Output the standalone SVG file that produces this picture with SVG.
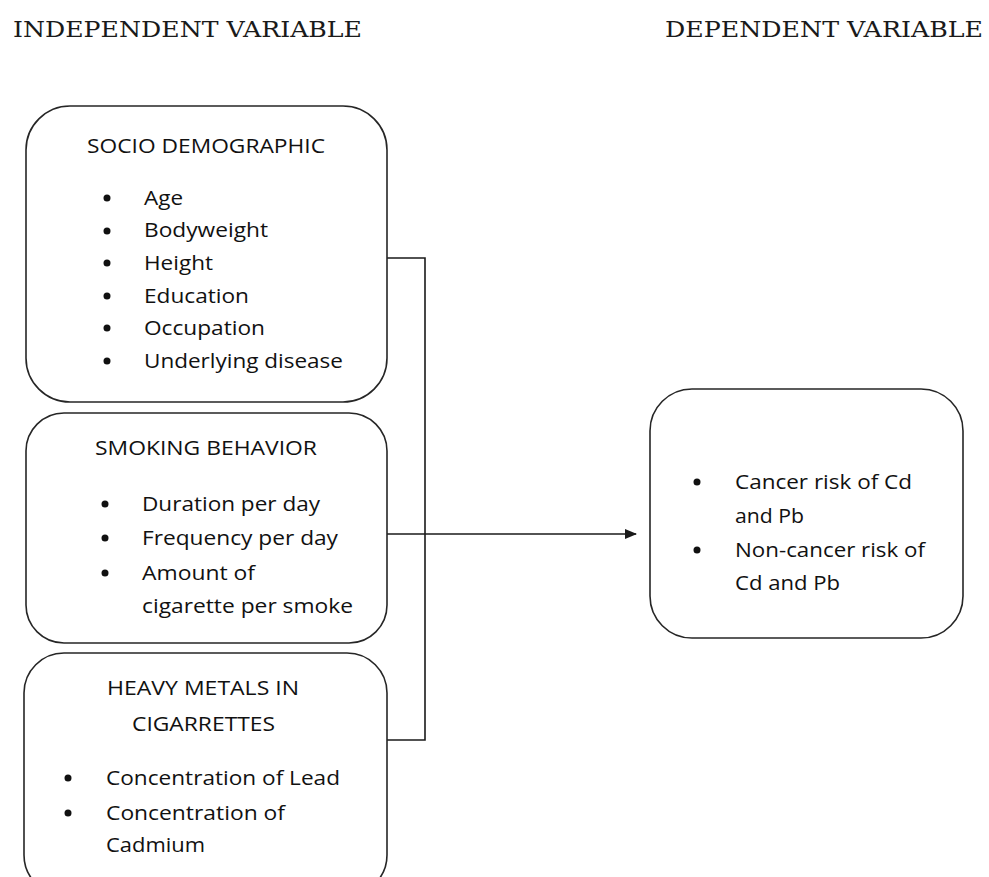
<svg xmlns="http://www.w3.org/2000/svg" width="989" height="877" viewBox="0 0 989 877">
<style>
.box{fill:#fff;stroke:#262626;stroke-width:1.6}
.hd{font-family:"DejaVu Serif","Liberation Serif",serif;font-size:23px;fill:#1a1a1a}
.t{font-family:"Open Sans","Liberation Sans",sans-serif;font-size:20px;fill:#111}
.b{fill:#111}
.ln{fill:none;stroke:#1a1a1a;stroke-width:1.6}
</style>
<defs>
<marker id="ah" markerWidth="12" markerHeight="10" refX="11" refY="5" orient="auto" markerUnits="userSpaceOnUse">
<path d="M0,0 L12,5 L0,10 Z" fill="#1a1a1a"/>
</marker>
</defs>
<rect width="989" height="877" fill="#fff"/>
<text class="hd" x="13" y="37" textLength="349" lengthAdjust="spacingAndGlyphs">INDEPENDENT VARIABLE</text>
<text class="hd" x="665" y="37" textLength="318" lengthAdjust="spacingAndGlyphs">DEPENDENT VARIABLE</text>

<g id="connectors">
<polyline class="ln" points="387,258 425,258 425,740 387,740"/>
<line class="ln" x1="387" y1="534" x2="425" y2="534"/>
<line class="ln" x1="425" y1="534" x2="636" y2="534" marker-end="url(#ah)"/>
</g>

<g id="socio">
<rect class="box" x="26" y="106" width="361" height="296" rx="44"/>
<text class="t" x="87" y="153" textLength="238" lengthAdjust="spacingAndGlyphs">SOCIO DEMOGRAPHIC</text>
<circle class="b" cx="107" cy="198" r="3.5"/><text class="t" x="144" y="205" textLength="39" lengthAdjust="spacingAndGlyphs">Age</text>
<circle class="b" cx="107" cy="231" r="3.5"/><text class="t" x="144" y="237" textLength="124" lengthAdjust="spacingAndGlyphs">Bodyweight</text>
<circle class="b" cx="107" cy="263" r="3.5"/><text class="t" x="144" y="270" textLength="69" lengthAdjust="spacingAndGlyphs">Height</text>
<circle class="b" cx="107" cy="296" r="3.5"/><text class="t" x="144" y="303" textLength="105" lengthAdjust="spacingAndGlyphs">Education</text>
<circle class="b" cx="107" cy="328" r="3.5"/><text class="t" x="144" y="335" textLength="121" lengthAdjust="spacingAndGlyphs">Occupation</text>
<circle class="b" cx="107" cy="361" r="3.5"/><text class="t" x="144" y="368" textLength="199" lengthAdjust="spacingAndGlyphs">Underlying disease</text>
</g>

<g id="smoking">
<rect class="box" x="26" y="413" width="361" height="230" rx="38"/>
<text class="t" x="95" y="455" textLength="222" lengthAdjust="spacingAndGlyphs">SMOKING BEHAVIOR</text>
<circle class="b" cx="105" cy="504" r="3.5"/><text class="t" x="142" y="511" textLength="178" lengthAdjust="spacingAndGlyphs">Duration per day</text>
<circle class="b" cx="105" cy="538" r="3.5"/><text class="t" x="142" y="545" textLength="196" lengthAdjust="spacingAndGlyphs">Frequency per day</text>
<circle class="b" cx="105" cy="573" r="3.5"/><text class="t" x="142" y="580" textLength="113" lengthAdjust="spacingAndGlyphs">Amount of</text>
<text class="t" x="142" y="613" textLength="211" lengthAdjust="spacingAndGlyphs">cigarette per smoke</text>
</g>

<g id="metals">
<rect class="box" x="24" y="653" width="363" height="242" rx="40"/>
<text class="t" x="107" y="695" textLength="192" lengthAdjust="spacingAndGlyphs">HEAVY METALS IN</text>
<text class="t" x="132" y="731" textLength="143" lengthAdjust="spacingAndGlyphs">CIGARRETTES</text>
<circle class="b" cx="68" cy="778" r="3.5"/><text class="t" x="106" y="785" textLength="234" lengthAdjust="spacingAndGlyphs">Concentration of Lead</text>
<circle class="b" cx="68" cy="813" r="3.5"/><text class="t" x="106" y="820" textLength="179" lengthAdjust="spacingAndGlyphs">Concentration of</text>
<text class="t" x="106" y="852" textLength="99" lengthAdjust="spacingAndGlyphs">Cadmium</text>
</g>

<g id="risk">
<rect class="box" x="650" y="389" width="313" height="249" rx="42"/>
<circle class="b" cx="697" cy="482" r="3.5"/><text class="t" x="735" y="489" textLength="177" lengthAdjust="spacingAndGlyphs">Cancer risk of Cd</text>
<text class="t" x="735" y="523" textLength="69" lengthAdjust="spacingAndGlyphs">and Pb</text>
<circle class="b" cx="697" cy="550" r="3.5"/><text class="t" x="735" y="557" textLength="190" lengthAdjust="spacingAndGlyphs">Non-cancer risk of</text>
<text class="t" x="735" y="590" textLength="105" lengthAdjust="spacingAndGlyphs">Cd and Pb</text>
</g>
</svg>
